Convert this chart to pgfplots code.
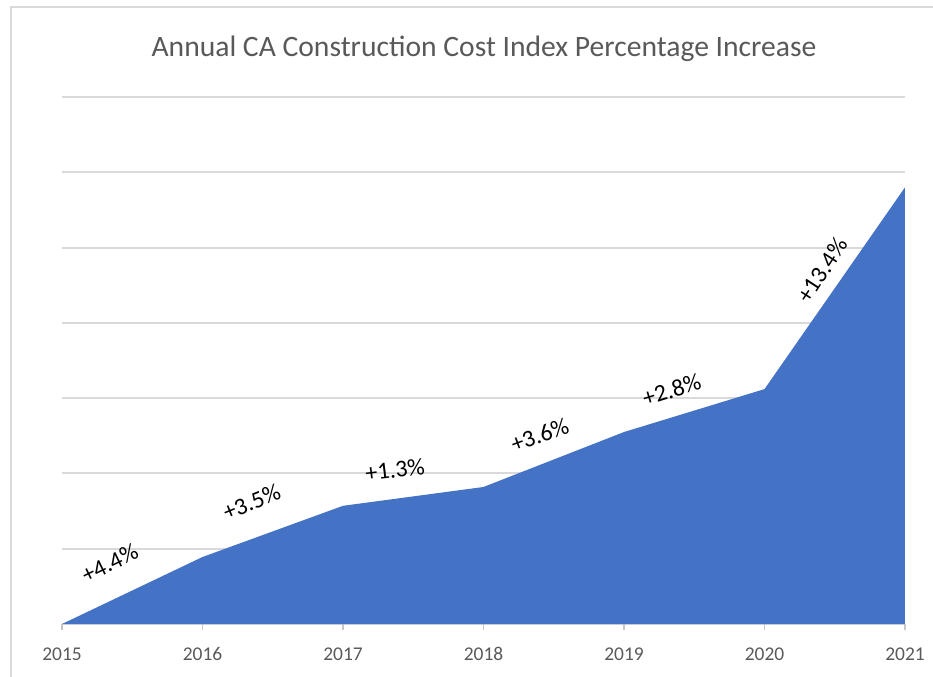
\documentclass[border=0pt]{standalone}
\usepackage{fontspec}
\setmainfont{Carlito}
\usepackage{pgfplots}
\pgfplotsset{compat=1.18}
\definecolor{areablue}{RGB}{68,114,196}
\definecolor{gridgray}{RGB}{217,217,217}
\definecolor{textgray}{RGB}{89,89,89}
\begin{document}
\begin{tikzpicture}[x=0.75pt,y=0.75pt]
\useasboundingbox (0,0) rectangle (933,676);
\draw[gridgray, line width=1.5pt] (11,-10) -- (11,669) -- (950,669);
\node[anchor=base, text=textgray, font=\fontsize{22.2}{26}\selectfont] at (484,619) {Annual CA Construction Cost Index Percentage Increase};
\begin{axis}[
  at={(46.5pt,39pt)}, anchor=south west,
  scale only axis, width=632.25pt, height=395.25pt,
  xmin=2015, xmax=2021, ymin=0, ymax=7,
  clip=false,
  axis line style={draw=none},
  xtick={2015,2016,2017,2018,2019,2020,2021},
  ytick={0,1,2,3,4,5,6,7},
  yticklabels={},
  xtick pos=bottom,
  ymajorgrids,
  grid style={gridgray, line width=1.4pt},
  y tick style={draw=none},
  x tick style={gridgray!80!gray, line width=1pt},
  tick align=outside,
  major tick length=4.5pt,
  xticklabel style={font=\fontsize{14.6}{17}\selectfont, text=textgray, text height=10.5pt, text depth=0pt, yshift=-9pt},
  /pgf/number format/1000 sep={},
  /pgf/number format/assume math mode=true,
]
\addplot[fill=areablue, draw=none] coordinates {
  (2015,0) (2016,0.89) (2017,1.57) (2018,1.82) (2019,2.55) (2020,3.12) (2021,5.80)
} \closedcycle;
\begin{scope}[font=\fontsize{18}{21}\selectfont]
\node[rotate=26] at (axis cs:2015.34,0.81) {+4.4\%};
\node[rotate=22] at (axis cs:2016.35,1.62) {+3.5\%};
\node[rotate=7] at (axis cs:2017.37,2.05) {+1.3\%};
\node[rotate=20] at (axis cs:2018.40,2.51) {+3.6\%};
\node[rotate=17] at (axis cs:2019.34,3.11) {+2.8\%};
\node[rotate=57] at (axis cs:2020.41,4.70) {+13.4\%};
\end{scope}
\end{axis}
\end{tikzpicture}
\end{document}
